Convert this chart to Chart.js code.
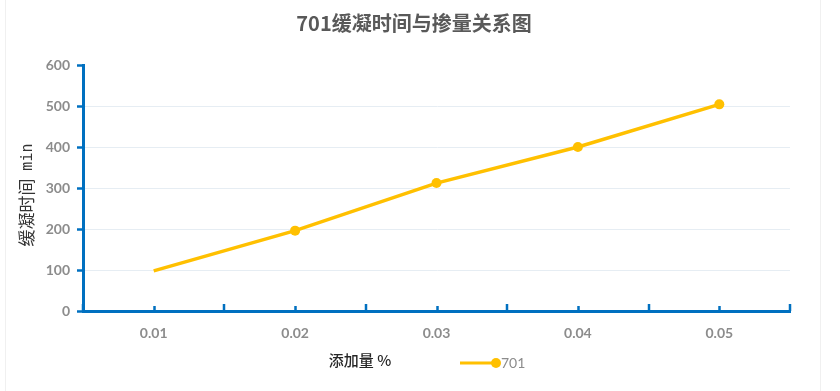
<!DOCTYPE html>
<html>
<head>
<meta charset="utf-8">
<script src="https://cdn.jsdelivr.net/npm/chart.js@4/dist/chart.umd.min.js"></script>
<style>
  html,body{margin:0;padding:0;background:#fff;}
  #wrap{width:840px;height:391px;position:relative;}
</style>
</head>
<body>
<div id="wrap"><canvas id="c" width="840" height="391"></canvas></div>
<script>
const categories = ['0.01', '0.02', '0.03', '0.04', '0.05'];
const seriesName = '701';
const retardTime = [98, 196, 312, 400, 504];
const markerRadius = [0, 5, 5, 5, 5];
const yTicks = [0, 100, 200, 300, 400, 500, 600];
const titleText = '701缓凝时间与掺量关系图';
const yTitleCn = '缓凝时间';
const yTitleUnit = 'min';
const xTitle = '添加量 %';

const AXIS_BLUE = '#0070C0';
const LINE_COLOR = '#FFC000';

const decorPlugin = {
  id: 'decor',
  beforeDraw(chart) {
    const ctx = chart.ctx;
    ctx.save();
    ctx.fillStyle = '#fff';
    ctx.fillRect(0, 0, chart.width, chart.height);
    ctx.strokeStyle = '#f0f0f0';
    ctx.lineWidth = 1;
    ctx.beginPath();
    ctx.moveTo(5.5, 0); ctx.lineTo(5.5, 391);
    ctx.moveTo(820.5, 0); ctx.lineTo(820.5, 391);
    ctx.stroke();
    ctx.restore();
  },
  afterDraw(chart) {
    const ctx = chart.ctx;
    const area = chart.chartArea;
    const xs = chart.scales.x;
    ctx.save();
    // x axis inside ticks
    ctx.strokeStyle = AXIS_BLUE;
    ctx.lineWidth = 2.5;
    ctx.beginPath();
    const n = categories.length;
    for (let i = 0; i < n; i++) {
      const px = Math.round(xs.getPixelForValue(i)) + 0.5;
      ctx.moveTo(px, area.bottom); ctx.lineTo(px, area.bottom - 5);
    }
    for (let i = 0; i <= n; i++) {
      const px = Math.round(xs.getPixelForValue(i - 0.5));
      ctx.moveTo(px, area.bottom); ctx.lineTo(px, area.bottom - 7);
    }
    ctx.stroke();
    // title
    ctx.fillStyle = '#595959';
    ctx.font = 'bold 20px "Noto Sans CJK SC", sans-serif';
    ctx.textAlign = 'center';
    ctx.textBaseline = 'middle';
    ctx.fillText(titleText, 414, 23);
    // y title
    ctx.save();
    ctx.translate(27, 195);
    ctx.rotate(-Math.PI / 2);
    ctx.fillStyle = '#333333';
    ctx.textAlign = 'left';
    ctx.font = '17px "Noto Sans CJK SC", sans-serif';
    const cnW = ctx.measureText(yTitleCn + ' ').width;
    ctx.font = '15px "DejaVu Sans Mono", monospace';
    const unW = ctx.measureText(yTitleUnit).width;
    const total = cnW + 4 + unW;
    ctx.font = '17px "Noto Sans CJK SC", sans-serif';
    ctx.fillText(yTitleCn, -total / 2, 0);
    ctx.font = '15px "DejaVu Sans Mono", monospace';
    ctx.fillText(yTitleUnit, -total / 2 + cnW + 4, 1);
    ctx.restore();
    // x title
    ctx.fillStyle = '#262626';
    ctx.font = '500 15px "Noto Sans CJK SC", sans-serif';
    ctx.textAlign = 'center';
    ctx.fillText(xTitle, 360, 360);
    // legend
    const ly = 363;
    ctx.strokeStyle = LINE_COLOR;
    ctx.lineWidth = 3;
    ctx.beginPath();
    ctx.moveTo(460, ly); ctx.lineTo(496, ly);
    ctx.stroke();
    ctx.fillStyle = LINE_COLOR;
    ctx.beginPath();
    ctx.arc(496, ly, 5, 0, Math.PI * 2);
    ctx.fill();
    ctx.fillStyle = '#8c8c8c';
    ctx.font = '14px Lato, "Open Sans", sans-serif';
    ctx.textAlign = 'left';
    ctx.fillText(seriesName, 501, ly);
    ctx.restore();
  }
};

new Chart(document.getElementById('c'), {
  type: 'line',
  data: {
    labels: categories,
    datasets: [{
      label: seriesName,
      data: retardTime,
      borderColor: LINE_COLOR,
      backgroundColor: LINE_COLOR,
      borderWidth: 3.5,
      pointRadius: markerRadius,
      pointBorderWidth: 0,
      pointBackgroundColor: LINE_COLOR,
      tension: 0,
      fill: false
    }]
  },
  options: {
    responsive: false,
    animation: false,
    devicePixelRatio: 1,
    layout: { padding: { top: 65, right: 50, left: 0, bottom: 0 } },
    plugins: {
      legend: { display: false },
      title: { display: false },
      tooltip: { enabled: false }
    },
    scales: {
      x: {
        type: 'category',
        offset: true,
        afterFit(scale) { scale.height = 80; },
        grid: { display: true, offset: true, drawOnChartArea: false, drawTicks: false },
        border: { color: AXIS_BLUE, width: 3 },
        ticks: {
          padding: 14,
          color: '#8c8c8c',
          font: { family: 'Lato, "Open Sans", sans-serif', size: 14, weight: 'bold' }
        }
      },
      y: {
        min: 0,
        max: 600,
        afterFit(scale) { scale.width = 83; },
        afterBuildTicks(scale) { scale.ticks = yTicks.map(v => ({ value: v })); },
        grid: {
          color(c) { return (c.tick && (c.tick.value === 0 || c.tick.value === 600)) ? 'rgba(0,0,0,0)' : '#e6edf3'; },
          lineWidth: 1,
          tickColor: AXIS_BLUE,
          tickLength: 6,
          tickWidth: 2.5
        },
        border: { color: AXIS_BLUE, width: 3 },
        ticks: {
          padding: 7,
          color: '#8c8c8c',
          font: { family: 'Lato, "Open Sans", sans-serif', size: 14, weight: 'bold' }
        }
      }
    }
  },
  plugins: [decorPlugin]
});
</script>
</body>
</html>
